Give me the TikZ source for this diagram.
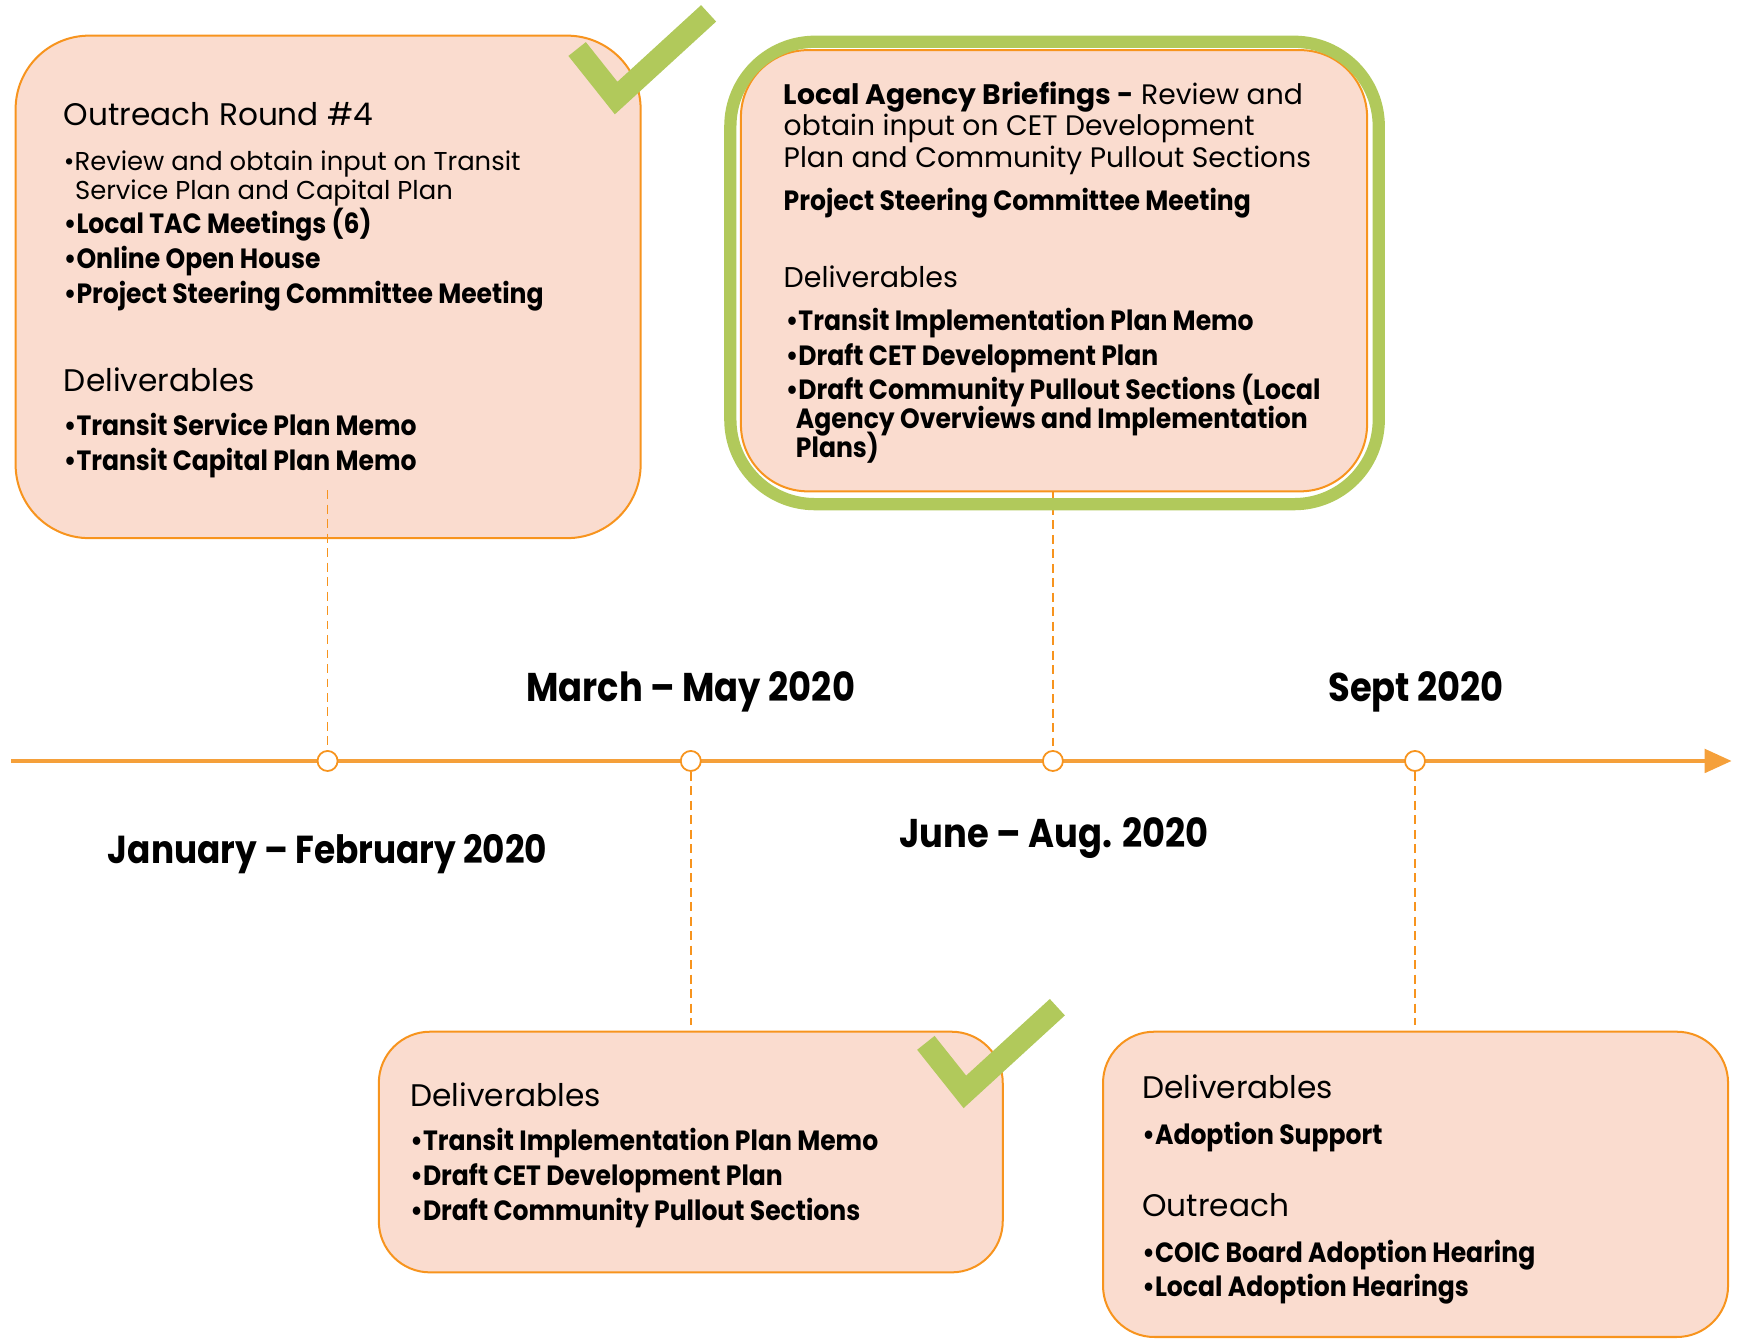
\documentclass[tikz,border=0pt]{standalone}
\usepackage{fontspec}
\setmainfont{Poppins}
\newfontfamily\bcond{Poppins}[FakeStretch=0.9]
\newfontfamily\dcond{Poppins}[FakeStretch=0.88]
\definecolor{peach}{HTML}{FADCCF}
\definecolor{orangeline}{HTML}{F7941E}
\definecolor{tline}{HTML}{F5A03A}
\definecolor{checkgreen}{HTML}{B1C95B}
\tikzset{
  box/.style={draw=orangeline, fill=peach, line width=0.9pt},
  reg/.style={anchor=base west, inner sep=0pt, font=\fontsize{11.6}{13}\selectfont},
  bld/.style={anchor=base west, inner sep=0pt, font=\bcond\bfseries\fontsize{12.5}{14}\selectfont},
  head/.style={anchor=base west, inner sep=0pt, font=\fontsize{14}{16}\selectfont},
  headsm/.style={anchor=base west, inner sep=0pt, font=\fontsize{12.8}{15}\selectfont},
  intro/.style={anchor=base west, inner sep=0pt, font=\fontsize{12.65}{15}\selectfont},
  datelbl/.style={anchor=base, inner sep=0pt, font=\dcond\bfseries\fontsize{18}{21}\selectfont},
  tick/.style={circle, draw=orangeline, fill=white, line width=0.8pt, minimum size=9pt, inner sep=0pt},
  conn/.style={draw=orangeline, line width=0.7pt, dash pattern=on 4pt off 2.5pt},
  checkmark/.style={draw=checkgreen, line width=10pt, line cap=butt, line join=miter},
}
\begin{document}
\begin{tikzpicture}[x=0.5pt, y=-0.5pt]
\useasboundingbox (0,0) rectangle (1568,1202);

% timeline
\coordinate (tstart) at (10,683);
\coordinate (tend) at (1532,683);
\draw[tline, line width=1.5pt] (tstart) -- (tend);
\fill[tline] (1530,672) -- (1554,683) -- (1530,694) -- cycle;

\node[tick] (c1) at (294,683) {};
\node[tick] (c2) at (620,683) {};
\node[tick] (c3) at (945,683) {};
\node[tick] (c4) at (1270,683) {};

% box 1
\draw[box, rounded corners=33pt] (14,32) rectangle (575,483);
\coordinate (d1) at (294,440);
\draw[conn] (d1) -- (c1.north);

% box 2
\draw[box, rounded corners=30pt] (665,45) rectangle (1227,441);
\coordinate (d3) at (945,441);
\draw[conn] (d3) -- (c3.north);
\draw[checkgreen, line width=5.5pt, rounded corners=38pt] (655.5,37.5) rectangle (1237.5,452.5);

% box 3
\draw[box, rounded corners=23pt] (340,926) rectangle (900,1142);
\coordinate (d2) at (620,920);
\draw[conn] (c2.south) -- (d2);

% box 4
\draw[box, rounded corners=23pt] (990,926) rectangle (1551,1200);
\coordinate (d4) at (1270,920);
\draw[conn] (c4.south) -- (d4);

% check marks
\draw[checkmark] (518,44) -- (553,88) -- (636,12);
\draw[checkmark] (831,936) -- (866,980) -- (949,904);

% box 1 text
\node[head] (t1a) at (57,113) {Outreach Round \#4};
\node[reg] (t1b) at (57,153) {•Review and obtain input on Transit};
\node[reg] (t1c) at (67,179) {Service Plan and Capital Plan};
\node[bld] (t1d) at (57,210) {•Local TAC Meetings (6)};
\node[bld] (t1e) at (57,241) {•Online Open House};
\node[bld] (t1f) at (57,272) {•Project Steering Committee Meeting};
\node[head] (t1g) at (57,351) {Deliverables};
\node[bld] (t1h) at (57,391) {•Transit Service Plan Memo};
\node[bld] (t1i) at (57,422) {•Transit Capital Plan Memo};

% box 2 text
\node[intro] (t2a) at (703,94) {{\bfseries Local Agency Briefings -} Review and};
\node[intro] (t2b) at (703,122) {obtain input on CET Development};
\node[intro] (t2c) at (703,150) {Plan and Community Pullout Sections};
\node[bld] (t2d) at (703,189) {Project Steering Committee Meeting};
\node[headsm] (t2e) at (703,258) {Deliverables};
\node[bld] (t2f) at (705,297) {•Transit Implementation Plan Memo};
\node[bld] (t2g) at (705,328) {•Draft CET Development Plan};
\node[bld] (t2h) at (705,359) {•Draft Community Pullout Sections (Local};
\node[bld] (t2i) at (714,385) {Agency Overviews and Implementation};
\node[bld] (t2j) at (714,411) {Plans)};

% box 3 text
\node[head] (t3a) at (368,993) {Deliverables};
\node[bld] (t3b) at (368,1033) {•Transit Implementation Plan Memo};
\node[bld] (t3c) at (368,1064) {•Draft CET Development Plan};
\node[bld] (t3d) at (368,1095) {•Draft Community Pullout Sections};

% box 4 text
\node[head] (t4a) at (1025,986) {Deliverables};
\node[bld] (t4b) at (1025,1027) {•Adoption Support};
\node[head] (t4c) at (1025,1092) {Outreach};
\node[bld] (t4d) at (1025,1133) {•COIC Board Adoption Hearing};
\node[bld] (t4e) at (1025,1164) {•Local Adoption Hearings};

% dates
\node[datelbl] (l2) at (620,630) {March – May 2020};
\node[datelbl] (l4) at (1271,630) {Sept 2020};
\node[datelbl, font=\dcond\bfseries\fontsize{17.5}{21}\selectfont] (l1) at (294,775) {January – February 2020};
\node[datelbl] (l3) at (946,761) {June – Aug. 2020};
\end{tikzpicture}
\end{document}
